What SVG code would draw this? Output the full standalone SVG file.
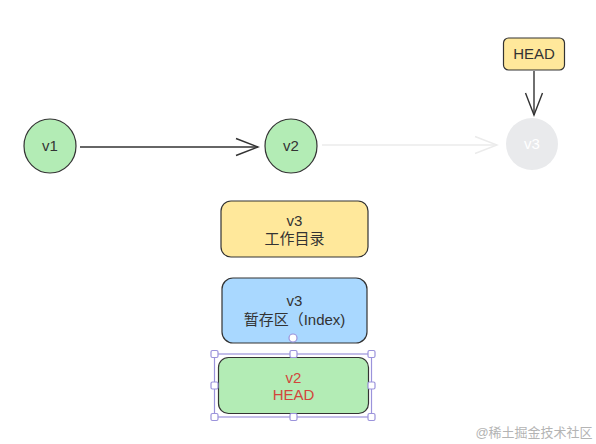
<svg xmlns="http://www.w3.org/2000/svg" width="596" height="444" viewBox="0 0 596 444">
<style>
text{font-family:"Liberation Sans","Noto Sans CJK SC",sans-serif;font-size:15px;text-anchor:middle;fill:#333}
.n{stroke:#333;stroke-width:1.2}
.g{fill:#b3ecb5}
.y{fill:#ffe89b}
.b{fill:#a9d8ff}
.sel{fill:#fff;stroke:#9b93db;stroke-width:1.2}
</style>
<defs>
<marker id="ah" markerWidth="26" markerHeight="20" refX="23" refY="10" orient="auto" markerUnits="userSpaceOnUse">
<path d="M1,1.5 L23,10 L1,18.5" fill="none" stroke="#333" stroke-width="1.4"/>
</marker>
<marker id="ahf" markerWidth="26" markerHeight="20" refX="23" refY="10" orient="auto" markerUnits="userSpaceOnUse">
<path d="M1,1.5 L23,10 L1,18.5" fill="none" stroke="#ebebeb" stroke-width="1.4"/>
</marker>
</defs>
<rect width="596" height="444" fill="#fff"/>
<g id="connectors">
<line x1="80" y1="147" x2="258" y2="147" stroke="#333" stroke-width="1.4" marker-end="url(#ah)"/>
<line x1="322" y1="145" x2="497" y2="145" stroke="#ebebeb" stroke-width="1.4" marker-end="url(#ahf)"/>
<line x1="534" y1="71" x2="534" y2="115" stroke="#333" stroke-width="1.4" marker-end="url(#ah)"/>
</g>
<g id="v1"><ellipse class="n g" cx="50" cy="146" rx="26" ry="27"/><text x="50" y="151">v1</text></g>
<g id="v2"><ellipse class="n g" cx="291" cy="146" rx="26" ry="27"/><text x="291" y="151">v2</text></g>
<g id="v3"><circle cx="532" cy="144" r="26" fill="#e9eaec"/><text x="532" y="149" style="fill:#fff">v3</text></g>
<g id="head"><rect class="n y" x="503.5" y="38" width="61" height="32" rx="5"/><text x="534" y="59">HEAD</text></g>
<g id="workdir"><rect class="n y" x="221" y="201" width="147" height="56" rx="10"/><text x="294.5" y="226">v3</text><text x="294.5" y="244">工作目录</text></g>
<g id="index"><rect class="n b" x="222" y="278" width="145" height="65" rx="11"/><text x="294.5" y="306">v3</text><text x="294.5" y="325">暂存区（Index)</text><circle cx="293" cy="338" r="4" fill="#fff" stroke="#9b93db" stroke-width="1.2"/></g>
<g id="headstate">
<rect class="n g" x="218.5" y="357.5" width="150" height="56" rx="10"/>
<text x="293.5" y="383" style="fill:#d2463c">v2</text>
<text x="293.5" y="400" style="fill:#d2463c">HEAD</text>
<rect x="214.5" y="354" width="157" height="63" fill="none" stroke="#9b93db" stroke-width="1.2"/>
<rect class="sel" x="211" y="350.5" width="7" height="7" rx="1.5"/>
<rect class="sel" x="290" y="350.5" width="7" height="7" rx="1.5"/>
<rect class="sel" x="368" y="350.5" width="7" height="7" rx="1.5"/>
<rect class="sel" x="211" y="382" width="7" height="7" rx="1.5"/>
<rect class="sel" x="368" y="382" width="7" height="7" rx="1.5"/>
<rect class="sel" x="211" y="413.5" width="7" height="7" rx="1.5"/>
<rect class="sel" x="290" y="413.5" width="7" height="7" rx="1.5"/>
<rect class="sel" x="368" y="413.5" width="7" height="7" rx="1.5"/>
</g>
<text x="534" y="437" style="font-size:13px;fill:#b4b4b4">@稀土掘金技术社区</text>
</svg>
